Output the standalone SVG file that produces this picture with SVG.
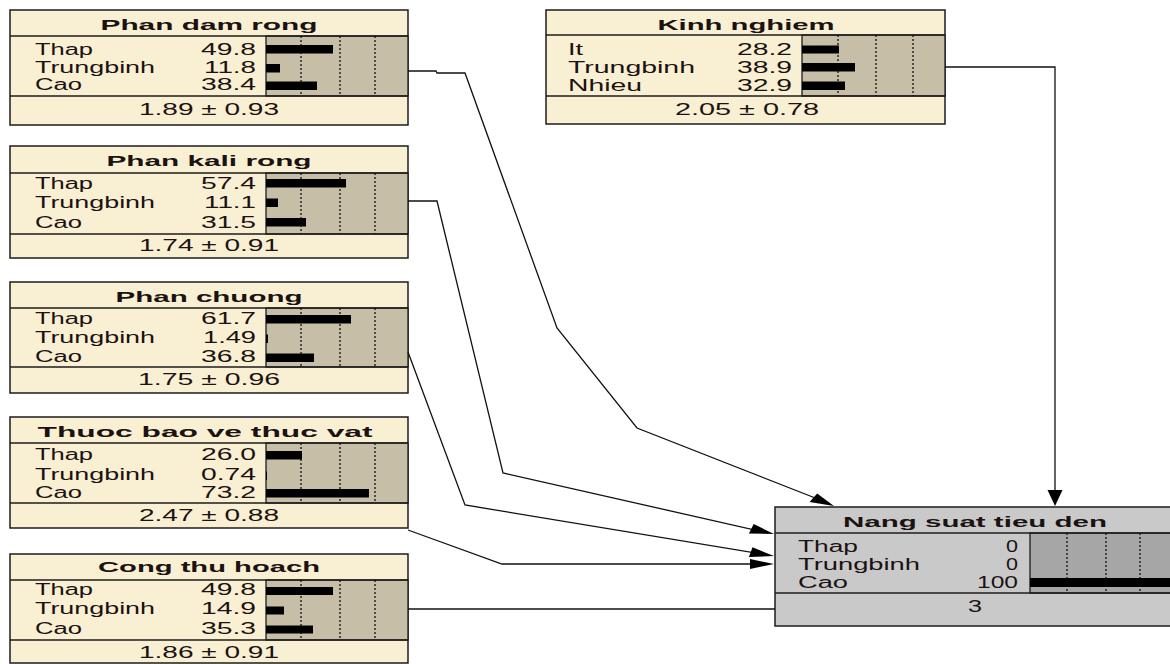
<svg xmlns="http://www.w3.org/2000/svg" width="1170" height="664" viewBox="0 0 1170 664">
  <style>
    .box { fill: #F9EFD3; stroke: #1c1c1c; stroke-width: 1.5; }
    .pane { fill: #C7BEA7; stroke: #1c1c1c; stroke-width: 1.3; }
    .box.query { fill: #C9C9C9; }
    .pane.query { fill: #A6A6A6; }
    .sep { stroke: #1c1c1c; stroke-width: 1.5; }
    .grid { fill: none; stroke: #111; stroke-width: 1.3; stroke-dasharray: 2 2; }
    .bar { fill: #000; }
    .title { font-family: "Liberation Sans", Arial, sans-serif; font-weight: bold; font-size: 15px; fill: #1b1212; text-anchor: middle; }
    .lbl { font-family: "Liberation Sans", Arial, sans-serif; font-size: 16px; fill: #1b1212; }
    .val { font-family: "Liberation Sans", Arial, sans-serif; font-size: 16px; fill: #1b1212; text-anchor: end; }
    .stat { font-family: "Liberation Sans", Arial, sans-serif; font-size: 16px; fill: #1b1212; text-anchor: middle; }
    .link { fill: none; stroke: #111; stroke-width: 1.3; }
    .head { fill: #000; }
  </style>

  <rect x="0" y="0" width="1170" height="664" fill="#ffffff"/>

  <!-- Phan dam rong -->
  <g id="phan-dam-rong">
    <rect class="box" x="10" y="10" width="398" height="115"/>
    <rect class="pane" x="266" y="36" width="142" height="60"/>
    <line class="sep" x1="10" y1="36" x2="408" y2="36"/>
    <line class="sep" x1="10" y1="96" x2="408" y2="96"/>
    <path class="grid" d="M301 36V96M340 36V96M375 36V96"/>
    <rect class="bar" x="266" y="45" width="67" height="8.5"/>
    <rect class="bar" x="266" y="64" width="14" height="8.5"/>
    <rect class="bar" x="266" y="81.5" width="51" height="8.5"/>
    <text class="title" x="209" y="30" textLength="217" lengthAdjust="spacingAndGlyphs">Phan dam rong</text>
    <text class="lbl" x="35" y="55" textLength="58" lengthAdjust="spacingAndGlyphs">Thap</text>
    <text class="lbl" x="35" y="73" textLength="120" lengthAdjust="spacingAndGlyphs">Trungbinh</text>
    <text class="lbl" x="35" y="90" textLength="47" lengthAdjust="spacingAndGlyphs">Cao</text>
    <text class="val" x="256" y="55" textLength="55" lengthAdjust="spacingAndGlyphs">49.8</text>
    <text class="val" x="256" y="73" textLength="52" lengthAdjust="spacingAndGlyphs">11.8</text>
    <text class="val" x="256" y="90" textLength="55" lengthAdjust="spacingAndGlyphs">38.4</text>
    <text class="stat" x="209" y="115" textLength="140" lengthAdjust="spacingAndGlyphs">1.89 ± 0.93</text>
  </g>

  <!-- Phan kali rong -->
  <g id="phan-kali-rong">
    <rect class="box" x="10" y="146" width="398" height="112"/>
    <rect class="pane" x="266" y="173" width="142" height="61"/>
    <line class="sep" x1="10" y1="173" x2="408" y2="173"/>
    <line class="sep" x1="10" y1="234" x2="408" y2="234"/>
    <path class="grid" d="M301 173V234M340 173V234M375 173V234"/>
    <rect class="bar" x="266" y="179" width="80" height="8.5"/>
    <rect class="bar" x="266" y="198.5" width="12" height="8.5"/>
    <rect class="bar" x="266" y="218" width="40" height="8.5"/>
    <text class="title" x="209" y="166" textLength="205" lengthAdjust="spacingAndGlyphs">Phan kali rong</text>
    <text class="lbl" x="35" y="189" textLength="58" lengthAdjust="spacingAndGlyphs">Thap</text>
    <text class="lbl" x="35" y="208" textLength="120" lengthAdjust="spacingAndGlyphs">Trungbinh</text>
    <text class="lbl" x="35" y="228" textLength="47" lengthAdjust="spacingAndGlyphs">Cao</text>
    <text class="val" x="256" y="189" textLength="55" lengthAdjust="spacingAndGlyphs">57.4</text>
    <text class="val" x="256" y="208" textLength="52" lengthAdjust="spacingAndGlyphs">11.1</text>
    <text class="val" x="256" y="228" textLength="55" lengthAdjust="spacingAndGlyphs">31.5</text>
    <text class="stat" x="209" y="251" textLength="140" lengthAdjust="spacingAndGlyphs">1.74 ± 0.91</text>
  </g>

  <!-- Phan chuong -->
  <g id="phan-chuong">
    <rect class="box" x="10" y="282" width="398" height="111"/>
    <rect class="pane" x="266" y="308" width="142" height="59"/>
    <line class="sep" x1="10" y1="308" x2="408" y2="308"/>
    <line class="sep" x1="10" y1="367" x2="408" y2="367"/>
    <path class="grid" d="M301 308V367M340 308V367M375 308V367"/>
    <rect class="bar" x="266" y="315" width="85" height="8.5"/>
    <rect class="bar" x="266" y="334.5" width="2" height="8.5"/>
    <rect class="bar" x="266" y="353.5" width="48" height="8.5"/>
    <text class="title" x="209" y="302" textLength="187" lengthAdjust="spacingAndGlyphs">Phan chuong</text>
    <text class="lbl" x="35" y="324" textLength="58" lengthAdjust="spacingAndGlyphs">Thap</text>
    <text class="lbl" x="35" y="343" textLength="120" lengthAdjust="spacingAndGlyphs">Trungbinh</text>
    <text class="lbl" x="35" y="362" textLength="47" lengthAdjust="spacingAndGlyphs">Cao</text>
    <text class="val" x="256" y="324" textLength="55" lengthAdjust="spacingAndGlyphs">61.7</text>
    <text class="val" x="256" y="343" textLength="53" lengthAdjust="spacingAndGlyphs">1.49</text>
    <text class="val" x="256" y="362" textLength="55" lengthAdjust="spacingAndGlyphs">36.8</text>
    <text class="stat" x="209" y="385" textLength="142" lengthAdjust="spacingAndGlyphs">1.75 ± 0.96</text>
  </g>

  <!-- Thuoc bao ve thuc vat -->
  <g id="thuoc-bao-ve-thuc-vat">
    <rect class="box" x="10" y="417" width="398" height="111"/>
    <rect class="pane" x="266" y="443" width="142" height="60"/>
    <line class="sep" x1="10" y1="443" x2="408" y2="443"/>
    <line class="sep" x1="10" y1="503" x2="408" y2="503"/>
    <path class="grid" d="M301 443V503M340 443V503M375 443V503"/>
    <rect class="bar" x="266" y="451" width="36" height="8.5"/>
    <rect class="bar" x="266" y="471.5" width="1" height="8.5"/>
    <rect class="bar" x="266" y="489" width="103" height="8.5"/>
    <text class="title" x="205" y="437" textLength="335" lengthAdjust="spacingAndGlyphs">Thuoc bao ve thuc vat</text>
    <text class="lbl" x="35" y="460" textLength="58" lengthAdjust="spacingAndGlyphs">Thap</text>
    <text class="lbl" x="35" y="480" textLength="120" lengthAdjust="spacingAndGlyphs">Trungbinh</text>
    <text class="lbl" x="35" y="498" textLength="47" lengthAdjust="spacingAndGlyphs">Cao</text>
    <text class="val" x="256" y="460" textLength="55" lengthAdjust="spacingAndGlyphs">26.0</text>
    <text class="val" x="256" y="480" textLength="55" lengthAdjust="spacingAndGlyphs">0.74</text>
    <text class="val" x="256" y="498" textLength="55" lengthAdjust="spacingAndGlyphs">73.2</text>
    <text class="stat" x="209" y="521" textLength="140" lengthAdjust="spacingAndGlyphs">2.47 ± 0.88</text>
  </g>

  <!-- Cong thu hoach -->
  <g id="cong-thu-hoach">
    <rect class="box" x="10" y="554" width="398" height="109"/>
    <rect class="pane" x="266" y="580" width="142" height="60"/>
    <line class="sep" x1="10" y1="580" x2="408" y2="580"/>
    <line class="sep" x1="10" y1="640" x2="408" y2="640"/>
    <path class="grid" d="M301 580V640M340 580V640M375 580V640"/>
    <rect class="bar" x="266" y="587" width="67" height="8"/>
    <rect class="bar" x="266" y="606.5" width="18" height="8"/>
    <rect class="bar" x="266" y="625.5" width="47" height="8"/>
    <text class="title" x="209" y="572" textLength="222" lengthAdjust="spacingAndGlyphs">Cong thu hoach</text>
    <text class="lbl" x="35" y="595" textLength="58" lengthAdjust="spacingAndGlyphs">Thap</text>
    <text class="lbl" x="35" y="614" textLength="120" lengthAdjust="spacingAndGlyphs">Trungbinh</text>
    <text class="lbl" x="35" y="634" textLength="47" lengthAdjust="spacingAndGlyphs">Cao</text>
    <text class="val" x="256" y="595" textLength="55" lengthAdjust="spacingAndGlyphs">49.8</text>
    <text class="val" x="256" y="614" textLength="55" lengthAdjust="spacingAndGlyphs">14.9</text>
    <text class="val" x="256" y="634" textLength="55" lengthAdjust="spacingAndGlyphs">35.3</text>
    <text class="stat" x="209" y="658" textLength="140" lengthAdjust="spacingAndGlyphs">1.86 ± 0.91</text>
  </g>

  <!-- Kinh nghiem -->
  <g id="kinh-nghiem">
    <rect class="box" x="546" y="10" width="399" height="114"/>
    <rect class="pane" x="802" y="35" width="143" height="61"/>
    <line class="sep" x1="546" y1="35" x2="945" y2="35"/>
    <line class="sep" x1="546" y1="96" x2="945" y2="96"/>
    <path class="grid" d="M838 35V96M876 35V96M913 35V96"/>
    <rect class="bar" x="802" y="45.5" width="37" height="8"/>
    <rect class="bar" x="802" y="63" width="53" height="8.5"/>
    <rect class="bar" x="802" y="81.5" width="43" height="8.5"/>
    <text class="title" x="746" y="30" textLength="177" lengthAdjust="spacingAndGlyphs">Kinh nghiem</text>
    <text class="lbl" x="568" y="55" textLength="15" lengthAdjust="spacingAndGlyphs">It</text>
    <text class="lbl" x="568" y="73" textLength="127" lengthAdjust="spacingAndGlyphs">Trungbinh</text>
    <text class="lbl" x="568" y="91" textLength="74" lengthAdjust="spacingAndGlyphs">Nhieu</text>
    <text class="val" x="792" y="55" textLength="55" lengthAdjust="spacingAndGlyphs">28.2</text>
    <text class="val" x="792" y="73" textLength="55" lengthAdjust="spacingAndGlyphs">38.9</text>
    <text class="val" x="792" y="91" textLength="55" lengthAdjust="spacingAndGlyphs">32.9</text>
    <text class="stat" x="747" y="115" textLength="144" lengthAdjust="spacingAndGlyphs">2.05 ± 0.78</text>
  </g>

  <!-- Nang suat tieu den (observed node) -->
  <g id="nang-suat-tieu-den">
    <rect class="box query" x="775" y="507" width="400" height="119"/>
    <rect class="pane query" x="1030" y="533" width="145" height="60"/>
    <line class="sep" x1="775" y1="533" x2="1175" y2="533"/>
    <line class="sep" x1="775" y1="593" x2="1175" y2="593"/>
    <path class="grid" d="M1067 533V593M1106 533V593M1140 533V593"/>
    <rect class="bar" x="1030" y="578" width="145" height="9"/>
    <text class="title" x="975" y="527" textLength="264" lengthAdjust="spacingAndGlyphs">Nang suat tieu den</text>
    <text class="lbl" x="798" y="552" textLength="60" lengthAdjust="spacingAndGlyphs">Thap</text>
    <text class="lbl" x="798" y="570" textLength="122" lengthAdjust="spacingAndGlyphs">Trungbinh</text>
    <text class="lbl" x="798" y="588" textLength="50" lengthAdjust="spacingAndGlyphs">Cao</text>
    <text class="val" x="1018" y="552" textLength="12" lengthAdjust="spacingAndGlyphs">0</text>
    <text class="val" x="1018" y="570" textLength="12" lengthAdjust="spacingAndGlyphs">0</text>
    <text class="val" x="1018" y="588" textLength="41" lengthAdjust="spacingAndGlyphs">100</text>
    <text class="stat" x="975" y="612" textLength="14" lengthAdjust="spacingAndGlyphs">3</text>
  </g>

  <!-- Links into Nang suat tieu den -->
  <g id="connectors">
    <path class="link" d="M408 71H436L437 73H465L557 328L637 428L828 503"/>
    <polygon class="head" points="834,506 809.6,502.1 817.2,493.5"/>

    <path class="link" d="M408 201H437L503 473L768 533"/>
    <polygon class="head" points="774,534 748.9,533.6 753.7,524.1"/>

    <path class="link" d="M408 352L465 505L768 555"/>
    <polygon class="head" points="774,556 748.9,557 752.5,547.3"/>

    <path class="link" d="M408 530L502 564H768"/>
    <polygon class="head" points="774,564 750,559 750,569"/>

    <path class="link" d="M408 609H775"/>

    <path class="link" d="M945 67H1055V500"/>
    <polygon class="head" points="1055,506 1047.5,490 1062.5,490"/>
  </g>
</svg>
